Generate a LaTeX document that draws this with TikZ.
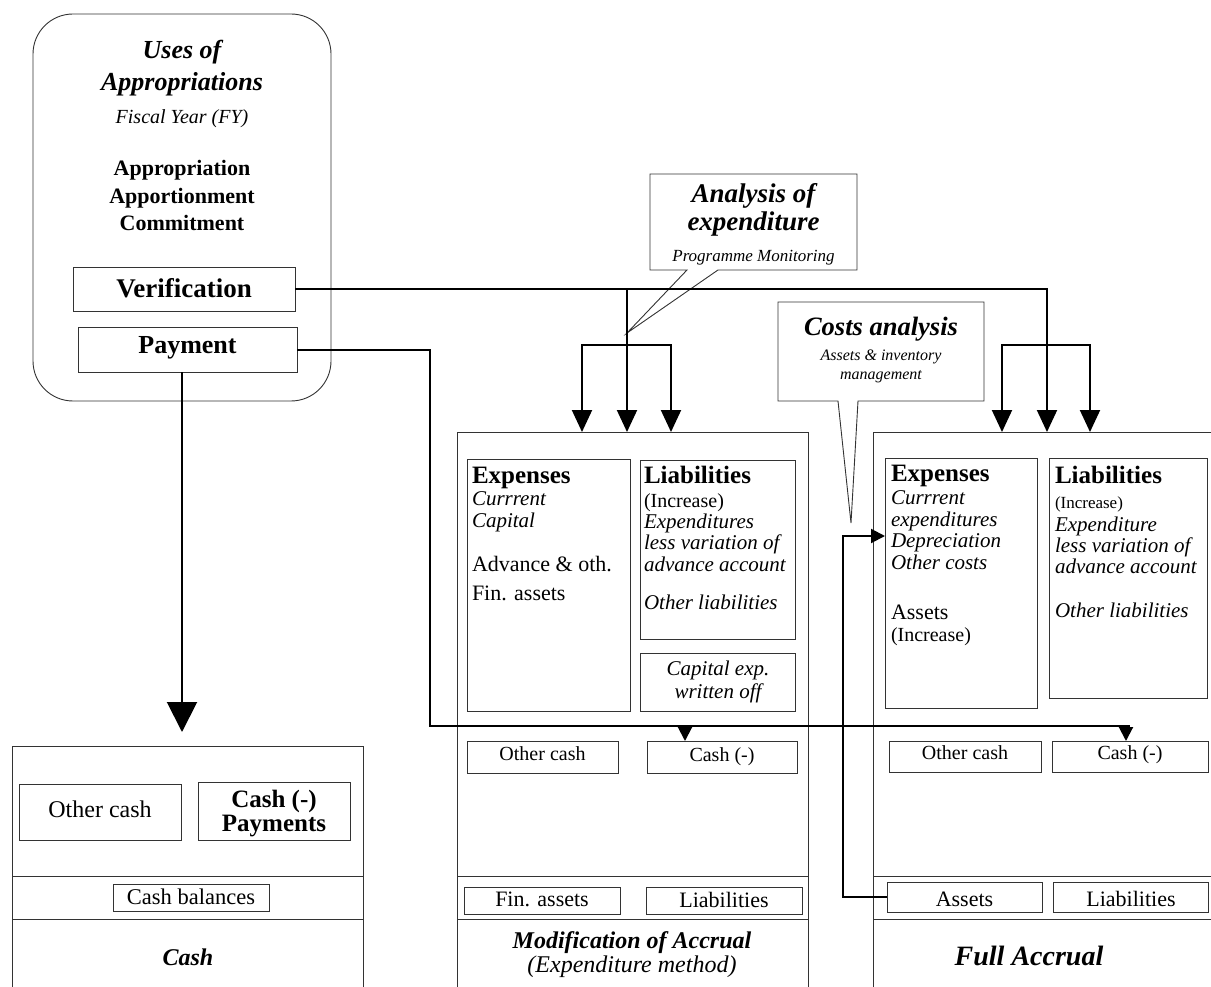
\documentclass[tikz,border=0pt]{standalone}
\usepackage{fontspec}
\setmainfont{Liberation Serif}
\usetikzlibrary{arrows.meta}
\newcommand\fz[1]{\fontsize{#1}{#1}\selectfont}
% box: name, x1, y1, x2, y2
\newcommand\B[5]{\node[bx, minimum width={#4-#2}, minimum height={#5-#3}] (#1) at (#2,#3) {};}
% text: name, anchor, x, y(cap centre), size, style, text
\newcommand\T[7]{\node[inner sep=0pt, outer sep=0pt, anchor=#2, font=\fz{#5}#6] (#1) at (#3,{#4+0.33*#5}) {#7};}
\begin{document}
\begin{tikzpicture}[x=1pt,y=-1pt,
 bx/.style={draw=black!80, line width=0.9pt, inner sep=0pt, outer sep=0pt, anchor=north west, fill=white},
 callout/.style={draw=black!80, line width=0.9pt, fill=white},
 divl/.style={draw=black!80, line width=0.9pt},
 conn/.style={draw=black, line width=2pt},
 bigtip/.style={-{Triangle[width=30pt,length=30pt]}},
 midtip/.style={-{Triangle[width=20pt,length=22pt]}},
 smtip/.style={-{Triangle[width=14pt,length=14pt]}},
]
\useasboundingbox (0,0) rectangle (1211,987);
\clip (0,0) rectangle (1211,987);

% ---------- Uses of appropriations ----------
\node[bx, rounded corners=40pt, minimum width=298, minimum height=387] (uses) at (33,14) {};
\B{ver}{73}{267}{295}{311}
\B{pay}{78}{327}{297}{372}

% ---------- panels ----------
\B{cashp}{12}{746}{363}{1000}
\draw[divl] (cashp.west |- 0,876) -- (cashp.east |- 0,876);
\draw[divl] (cashp.west |- 0,919) -- (cashp.east |- 0,919);
\B{ocash}{19}{784}{181}{840}
\B{cpay}{198}{782}{350}{840}
\B{cbal}{113}{884}{269}{911}

\B{midp}{457}{432}{808}{1000}
\draw[divl] (midp.west |- 0,876) -- (midp.east |- 0,876);
\draw[divl] (midp.west |- 0,919) -- (midp.east |- 0,919);
\B{mexp}{467}{459}{630}{711}
\B{mliab}{640}{460}{795}{639}
\B{mcap}{640}{653}{795}{711}
\B{mocash}{467}{741}{618}{773}
\B{mcash}{647}{741}{797}{773}
\B{mfin}{464}{887}{620}{914}
\B{mliab2}{646}{887}{802}{914}

\B{rp}{873}{432}{1230}{1000}
\draw[divl] (rp.west |- 0,876) -- (rp.east |- 0,876);
\draw[divl] (rp.west |- 0,919) -- (rp.east |- 0,919);
\B{rexp}{885}{458}{1037}{708}
\B{rliab}{1049}{458}{1207}{698}
\B{rocash}{889}{741}{1041}{772}
\B{rcash}{1052}{741}{1208}{772}
\B{rassets}{887}{882}{1042}{912}
\B{rliab2}{1053}{882}{1208}{912}

% ---------- callouts ----------
\draw[callout] (650,174) -- (857,174) -- (857,270) -- (718,270) -- (627,333) -- (687,270) -- (650,270) -- cycle;
\draw[callout] (778,302) -- (984,302) -- (984,401) -- (858,401) -- (851,523) -- (838,401) -- (778,401) -- cycle;

% ---------- coordinates ----------
\coordinate (m1) at (582,432);
\coordinate (m2) at (627,432);
\coordinate (m3) at (671,432);
\coordinate (mj) at (627,289);
\coordinate (mb) at (627,345);
\coordinate (r1) at (1002,432);
\coordinate (r2) at (1047,432);
\coordinate (r3) at (1090,432);
\coordinate (rb) at (1047,345);
\coordinate (pc) at (430,726);
\coordinate (pe) at (1130,726);
\coordinate (s1a) at (685,726);
\coordinate (s1b) at (685,741);
\coordinate (s2a) at (1126,726);
\coordinate (s2b) at (1126,741);
\coordinate (ptip) at (182,732);
\coordinate (ac) at (843,536);
\coordinate (ea) at (885,536);

% ---------- connectors ----------
\draw[conn, midtip] (ver.east) -| (r2);
\draw[conn, midtip] (mj) -- (m2);
\draw[conn, midtip] (mb) -| (m1);
\draw[conn, midtip] (mb) -| (m3);
\draw[conn, midtip] (rb) -| (r1);
\draw[conn, midtip] (rb) -| (r3);
\draw[conn] (pay.east) -| (pc) -- (pe);
\draw[conn, smtip] (s1a) -- (s1b);
\draw[conn, smtip] (s2a) -- (s2b);
\draw[conn, bigtip] (pay.south -| ptip) -- (ptip);
\draw[conn, smtip] (rassets.west) -| (ac) -- (ea);

% ---------- texts ----------
\T{u1}{base}{182}{50}{26}{\bfseries\itshape}{Uses of}
\T{u2}{base}{182}{82}{26}{\bfseries\itshape}{Appropriations}
\T{u3}{base}{182}{117}{20}{\itshape}{Fiscal Year (FY)}
\T{u4}{base}{182}{168}{22}{\bfseries}{Appropriation}
\T{u5}{base}{182}{196}{22}{\bfseries}{Apportionment}
\T{u6}{base}{182}{223}{22}{\bfseries}{Commitment}
\T{vtxt}{base}{184}{288.5}{27}{\bfseries}{Verification}
\T{ptxt}{base}{187.5}{345}{26}{\bfseries}{Payment}

\T{c1}{base}{100}{810}{24}{}{Other cash}
\T{c2}{base}{274}{799}{25}{\bfseries}{Cash (-)}
\T{c3}{base}{274}{823}{25}{\bfseries}{Payments}
\T{c4}{base}{191}{897.5}{22.5}{}{Cash balances}
\T{c5}{base}{188}{958}{24}{\bfseries\itshape}{Cash}

\T{me1}{base west}{472}{475}{25}{\bfseries}{Expenses}
\T{me2}{base west}{472}{499}{21}{\itshape}{Currrent}
\T{me3}{base west}{472}{521}{21}{\itshape}{Capital}
\T{me4}{base west}{472}{564}{22}{}{Advance \& oth.}
\T{me5}{base west}{472}{593}{22}{}{Fin. assets}
\T{ml1}{base west}{644}{475}{25}{\bfseries}{Liabilities}
\T{ml2}{base west}{644}{501}{20}{}{(Increase)}
\T{ml3}{base west}{644}{522}{21}{\itshape}{Expenditures}
\T{ml4}{base west}{644}{543}{21}{\itshape}{less variation of}
\T{ml5}{base west}{644}{565}{21}{\itshape}{advance account}
\T{ml6}{base west}{644}{603}{21}{\itshape}{Other liabilities}
\T{mc1}{base}{718}{669}{21}{\itshape}{Capital exp.}
\T{mc2}{base}{718}{692}{21}{\itshape}{written off}
\T{mb1}{base}{542.5}{754}{20}{}{Other cash}
\T{mb2}{base}{722}{755}{20}{}{Cash (-)}
\T{mb3}{base}{542}{899.5}{22}{}{Fin. assets}
\T{mb4}{base}{724}{900}{22}{}{Liabilities}
\T{mt1}{base}{632}{941}{24}{\bfseries\itshape}{Modification of Accrual}
\T{mt2}{base}{632}{965}{24}{\itshape}{(Expenditure method)}

\T{re1}{base west}{891}{473}{25}{\bfseries}{Expenses}
\T{re2}{base west}{891}{498}{21}{\itshape}{Currrent}
\T{re3}{base west}{891}{520}{21}{\itshape}{expenditures}
\T{re4}{base west}{891}{541}{21}{\itshape}{Depreciation}
\T{re5}{base west}{891}{563}{21}{\itshape}{Other costs}
\T{re6}{base west}{891}{612}{22}{}{Assets}
\T{re7}{base west}{891}{635}{20}{}{(Increase)}
\T{rl1}{base west}{1055}{475}{25}{\bfseries}{Liabilities}
\T{rl2}{base west}{1055}{503}{17}{}{(Increase)}
\T{rl3}{base west}{1055}{525}{21}{\itshape}{Expenditure}
\T{rl4}{base west}{1055}{546}{21}{\itshape}{less variation of}
\T{rl5}{base west}{1055}{567}{21}{\itshape}{advance account}
\T{rl6}{base west}{1055}{611}{21}{\itshape}{Other liabilities}
\T{rb1}{base}{965}{753}{20}{}{Other cash}
\T{rb2}{base}{1130}{753}{20}{}{Cash (-)}
\T{rb3}{base}{964.5}{899.5}{22}{}{Assets}
\T{rb4}{base}{1131}{899.5}{22}{}{Liabilities}
\T{rt1}{base}{1029}{956}{28}{\bfseries\itshape}{Full Accrual}

\T{a1}{base}{753.5}{193.5}{27}{\bfseries\itshape}{Analysis of}
\T{a2}{base}{753.5}{222}{27}{\bfseries\itshape}{expenditure}
\T{a3}{base}{753.5}{256}{17}{\itshape}{Programme Monitoring}
\T{k1}{base}{881}{326.5}{26.5}{\bfseries\itshape}{Costs analysis}
\T{k2}{base}{881}{355}{16}{\itshape}{Assets \& inventory}
\T{k3}{base}{881}{374}{16}{\itshape}{management}
\end{tikzpicture}
\end{document}
